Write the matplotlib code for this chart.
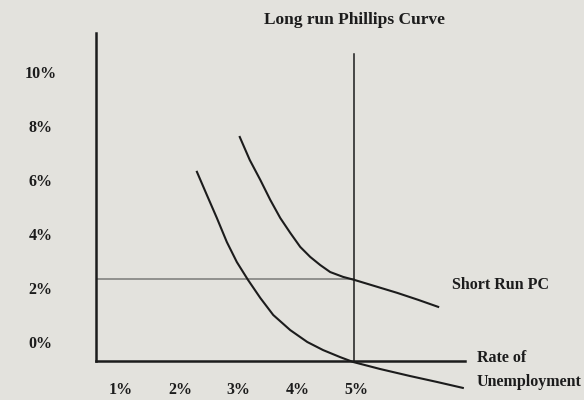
import matplotlib
matplotlib.use('Agg')
from matplotlib import pyplot as plt

plt.rcParams['font.family'] = ['Liberation Serif', 'DejaVu Serif']

# unemployment (%) and inflation (%)
srpc_low_u = [2.29, 2.46, 2.63, 2.80, 2.97, 3.16, 3.37, 3.59, 3.88, 4.17,
              4.44, 4.73, 4.95, 5.41, 5.92, 6.38, 6.82]
srpc_low_pi = [6.30, 5.44, 4.59, 3.70, 2.96, 2.30, 1.63, 1.00, 0.44, 0.00,
               -0.30, -0.56, -0.74, -1.00, -1.26, -1.48, -1.70]

srpc_high_u = [3.02, 3.19, 3.37, 3.54, 3.71, 3.88, 4.05, 4.22, 4.39, 4.56,
               4.78, 4.97, 5.32, 5.70, 6.06, 6.40]
srpc_high_pi = [7.59, 6.74, 6.00, 5.26, 4.59, 4.04, 3.52, 3.15, 2.85, 2.59,
                2.41, 2.30, 2.07, 1.82, 1.56, 1.30]

natural_u = 4.97
expected_pi = 2.33
lrpc_top = 10.67

x_ticks = [1, 2, 3, 4, 5]
x_labels = ['1%', '2%', '3%', '4%', '5%']
y_ticks = [0, 2, 4, 6, 8, 10]
y_labels = ['0%', '2%', '4%', '6%', '8%', '10%']

bg = '#e3e2dd'
ink = '#1c1c1c'

fig = plt.figure(figsize=(5.84, 4.0), dpi=100, facecolor=bg)
ax = fig.add_axes([96/584, 1-361/400, (465-96)/584, (361-33)/400])
ax.set_facecolor(bg)
ax.set_xlim(0.571, 6.857)
ax.set_ylim(-0.704, 11.44)

for s in ['top', 'right']:
    ax.spines[s].set_visible(False)
for s in ['left', 'bottom']:
    ax.spines[s].set_color(ink)
    ax.spines[s].set_linewidth(1.8)

ax.set_xticks(x_ticks)
ax.set_xticklabels(x_labels, fontweight='bold')
ax.set_yticks(y_ticks)
ax.set_yticklabels(y_labels, ha='center', fontweight='bold')
ax.tick_params(axis='x', length=0, pad=15, labelsize=11.5, labelcolor=ink)
ax.tick_params(axis='y', length=0, pad=40, labelsize=11.5, labelcolor=ink)

# expected inflation line and long run curve
ax.plot([0.571, natural_u], [expected_pi, expected_pi], color='#7a7a78', lw=1.1)
ax.plot([natural_u, natural_u], [-0.704, lrpc_top], color=ink, lw=1.1)

ax.plot(srpc_low_u, srpc_low_pi, color=ink, lw=1.5, clip_on=False)
ax.plot(srpc_high_u, srpc_high_pi, color=ink, lw=1.5, clip_on=False)

ax.text(natural_u, 11.93, 'Long run Phillips Curve', ha='center', va='center',
        fontsize=12.5, fontweight='bold', color=ink, clip_on=False)
ax.text(6.64, 2.11, 'Short Run PC', ha='left', va='center',
        fontsize=11.5, fontweight='bold', color=ink, clip_on=False)
ax.text(7.06, -0.59, 'Rate of', ha='left', va='center',
        fontsize=11.5, fontweight='bold', color=ink, clip_on=False)
ax.text(7.06, -1.48, 'Unemployment', ha='left', va='center',
        fontsize=11.5, fontweight='bold', color=ink, clip_on=False)

fig.savefig('out.png', dpi=100, facecolor=bg)
